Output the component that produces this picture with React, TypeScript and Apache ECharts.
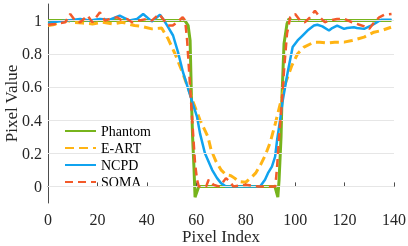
import React, { useEffect, useRef } from "react";
import * as echarts from "echarts";

const yTicks = [0, 0.2, 0.4, 0.6, 0.8, 1];

const phantomX = [0, 20, 40, 55.4, 56.7, 57.5, 58.1, 58.5, 59.1, 59.5, 61, 80, 91.8, 93, 93.5, 94.3, 94.7, 95.5, 96.7, 97.5, 98.7, 120, 139];
const phantomY = [1, 1, 1, 1, 0.97, 0.88, 0.5, 0.3, 0.1, -0.065, 0, 0, 0, -0.065, 0.04, 0.3, 0.55, 0.86, 0.98, 1.01, 1, 1, 1];

const eartX = [0, 2, 5, 8, 10, 14, 18, 22, 26, 30, 35, 38, 42, 46, 48.6, 51.4, 54.6, 58.7, 61.5, 64.7, 66, 68, 70, 72, 74, 75.5, 77, 80, 82, 84, 86, 88, 90, 92, 94, 96, 98.7, 101, 103.6, 107.6, 110, 112.9, 116, 119.8, 123, 127.9, 131.9, 135, 138.8];
const eartY = [0.97, 0.975, 0.99, 1.0, 0.99, 0.985, 0.98, 0.99, 0.98, 0.99, 0.97, 0.965, 0.95, 0.955, 0.89, 0.8, 0.68, 0.51, 0.4, 0.3, 0.22, 0.15, 0.1, 0.07, 0.065, 0.05, 0.03, 0.025, 0.05, 0.08, 0.13, 0.19, 0.27, 0.38, 0.5, 0.62, 0.73, 0.8, 0.84, 0.87, 0.87, 0.865, 0.87, 0.87, 0.88, 0.9, 0.93, 0.94, 0.96];

const ncpdX = [0, 4, 8, 13, 17, 21, 25, 29, 33, 36, 38.5, 42, 45.3, 47, 48.6, 50.6, 52.6, 54.6, 57.5, 60.3, 61.5, 63.5, 66.4, 68.4, 70, 72, 80, 85.8, 87.8, 89, 90.6, 91.9, 92.7, 93.9, 95, 97, 99, 101, 103, 105, 107.6, 109, 111, 113.7, 115, 117, 119.8, 121, 123.8, 125, 127.9, 130.7, 132.5, 134.8, 137, 139];
const ncpdY = [0.985, 0.995, 1.0, 1.01, 1.0, 1.01, 1.005, 1.03, 1.0, 1.01, 1.04, 0.995, 1.035, 1.0, 0.96, 0.91, 0.81, 0.69, 0.55, 0.42, 0.32, 0.2, 0.1, 0.05, 0.02, 0, 0, 0, 0.04, 0.08, 0.12, 0.18, 0.28, 0.4, 0.52, 0.69, 0.84, 0.88, 0.91, 0.94, 0.97, 0.975, 0.965, 0.94, 0.955, 0.97, 0.95, 0.955, 0.96, 0.955, 0.95, 0.97, 0.985, 1.005, 1.005, 1.005];

const somaX = [0, 3, 7, 9, 11, 13, 16, 18, 21, 23, 25, 28, 30, 32, 34, 37, 40, 42, 45, 47, 48.5, 50.5, 53, 54.5, 55.5, 56.3, 57.5, 58.7, 59.5, 60.3, 61, 64, 65, 67, 69, 70.5, 72, 73.5, 75, 80, 85, 90, 92, 92.7, 93.5, 94.5, 95.5, 96.7, 98, 100, 102, 104, 106, 108, 110, 112, 114, 117, 120, 123, 126, 128, 130, 132, 134, 136, 139];
const somaY = [0.975, 0.98, 0.99, 1.04, 1.0, 0.99, 1.03, 0.99, 1.05, 1.0, 1.01, 1.02, 1.0, 1.01, 0.99, 1.0, 1.01, 1.0, 1.04, 1.0, 0.97, 0.97, 1.0, 1.02, 1.0, 0.88, 0.6, 0.32, 0.14, 0.04, 0, 0, 0.04, 0.01, 0, 0.02, 0.05, 0.03, 0, 0.01, 0, 0, 0, 0.12, 0.3, 0.48, 0.7, 0.92, 1.02, 1.04, 1.0, 0.99, 1.02, 1.06, 1.02, 0.99, 1.0, 1.01, 1.01, 0.99, 0.975, 0.965, 0.95, 0.99, 1.02, 1.035, 1.04];

const zip = (xs: number[], ys: number[]) => {
  const n = Math.min(xs.length, ys.length);
  const out: number[][] = [];
  for (let i = 0; i < n; i++) out.push([xs[i], ys[i]]);
  return out;
};

const FONT = "'Liberation Serif', 'Times New Roman', serif";

export default function App() {
  const ref = useRef<HTMLDivElement>(null);
  useEffect(() => {
    if (!ref.current) return;
    const chart = echarts.init(ref.current, undefined, { renderer: "svg" });
    const lineSeries = (name: string, data: number[][], color: string, width: number, type: any, z: number) => ({
      name,
      type: "line",
      data,
      showSymbol: false,
      symbol: "none",
      z,
      lineStyle: { color, width, type },
      itemStyle: { color },
    });
    chart.setOption({
      animation: false,
      textStyle: { fontFamily: FONT },
      grid: { left: 48, right: 14, top: 4, bottom: 43, containLabel: false, outerBoundsMode: "none" },
      legend: {
        orient: "vertical",
        left: 64,
        top: 124,
        itemWidth: 31,
        itemHeight: 14,
        itemGap: 3,
        padding: 0,
        itemStyle: { opacity: 0 },
        data: ["Phantom", "E-ART", "NCPD", "SOMA"],
        textStyle: { fontFamily: FONT, fontSize: 14, color: "#000" },
      },
      xAxis: {
        type: "value",
        min: 0,
        max: 140,
        interval: 20,
        name: "Pixel Index",
        nameLocation: "middle",
        nameGap: 25,
        nameMoveOverlap: false,
        nameTextStyle: { fontFamily: FONT, fontSize: 17, color: "#262626" },
        axisLine: { show: true, lineStyle: { color: "#4d4d4d", width: 1 } },
        axisTick: { show: true, inside: true, length: 4, lineStyle: { color: "#4d4d4d" } },
        axisLabel: { fontFamily: FONT, fontSize: 16, color: "#262626", margin: 8 },
        splitLine: { show: false },
      },
      yAxis: {
        type: "value",
        min: -0.1,
        max: 1.1,
        name: "Pixel Value",
        nameLocation: "middle",
        nameGap: 28,
        nameMoveOverlap: false,
        nameTextStyle: { fontFamily: FONT, fontSize: 17, color: "#262626" },
        axisLine: { show: true, lineStyle: { color: "#4d4d4d", width: 1 } },
        axisTick: { show: true, inside: true, length: 4, customValues: yTicks, lineStyle: { color: "#4d4d4d" } },
        axisLabel: { fontFamily: FONT, fontSize: 16, color: "#262626", margin: 6, customValues: yTicks },
        splitLine: { show: false },
      },
      series: [
        {
          name: "grid",
          type: "line",
          data: [],
          z: 1,
          silent: true,
          markLine: {
            silent: true,
            symbol: ["none", "none"],
            label: { show: false },
            lineStyle: { color: "#e6e6e6", width: 1, type: "solid" },
            data: yTicks.map((v) => ({ yAxis: v })),
          },
        },
        lineSeries("Phantom", zip(phantomX, phantomY), "#77b41c", 3, "solid", 2),
        lineSeries("E-ART", zip(eartX, eartY), "#ffb414", 3, [9, 5], 3),
        lineSeries("NCPD", zip(ncpdX, ncpdY), "#10a3ef", 2.5, "solid", 4),
        lineSeries("SOMA", zip(somaX, somaY), "#f35a2a", 2.5, [8, 5], 5),
      ],
    });
    return () => chart.dispose();
  }, []);
  return <div ref={ref} style={{ position: "fixed", left: 0, top: 0, width: 408, height: 246 }} />;
}
